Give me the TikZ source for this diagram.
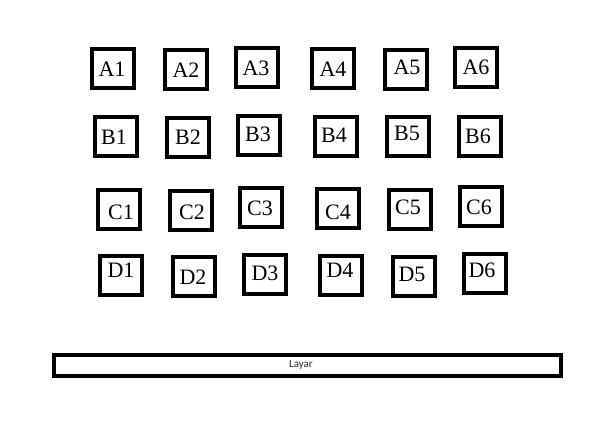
\documentclass[tikz,border=0pt]{standalone}
\usepackage{fontspec}
\setmainfont{Liberation Serif}
\newfontfamily\layarfont{Carlito}
\begin{document}
\begin{tikzpicture}[x=1pt,y=-1pt,
  seat/.style={draw=black,line width=4pt,minimum width=42pt,minimum height=39pt,inner sep=0pt},
  seatlabel/.style={inner sep=0pt,font=\fontsize{22}{22}\selectfont},
  screen/.style={draw=black,line width=3.6pt,minimum width=507pt,minimum height=21pt,inner sep=0pt},
  screenlabel/.style={inner sep=0pt,text=black!85,font=\layarfont\fontsize{11}{11}\selectfont}]
\useasboundingbox[fill=white] (0,0) rectangle (608,430);
% boxes: name/center x/center y/label x/label y
\foreach \n/\bx/\by/\lx/\ly in {
  A1/112.5/69/112/69, A2/186/70/186/70, A3/257/68/256/68, A4/333/68.5/333/69, A5/405.5/69.5/407/67, A6/476/67.5/476/67,
  B1/115.5/137/114/137, B2/188/137.5/188/137, B3/259/135.5/258/134, B4/335.5/136.5/334/135, B5/407.5/137/407/133, B6/479.5/136.5/478/136,
  C1/118.5/210/121/212, C2/191/211/192/212, C3/261/208/260/208, C4/338/208.5/338/212, C5/410/209.5/408/207, C6/481/206.5/479/207,
  D1/120.5/276/121/270, D2/194/277/193/277, D3/265/275/265/273, D4/341/276/340/270, D5/414/277/412/274, D6/485/274/482/270}{
  \node[seat] (box\n) at (\bx,\by) {};
  \node[seatlabel] (lab\n) at (\lx,\ly) {\n};
}
\node[screen] (layar) at (307.5,365.5) {};
\node[screenlabel] (layartext) at (301,364.5) {Layar};
\end{tikzpicture}
\end{document}
